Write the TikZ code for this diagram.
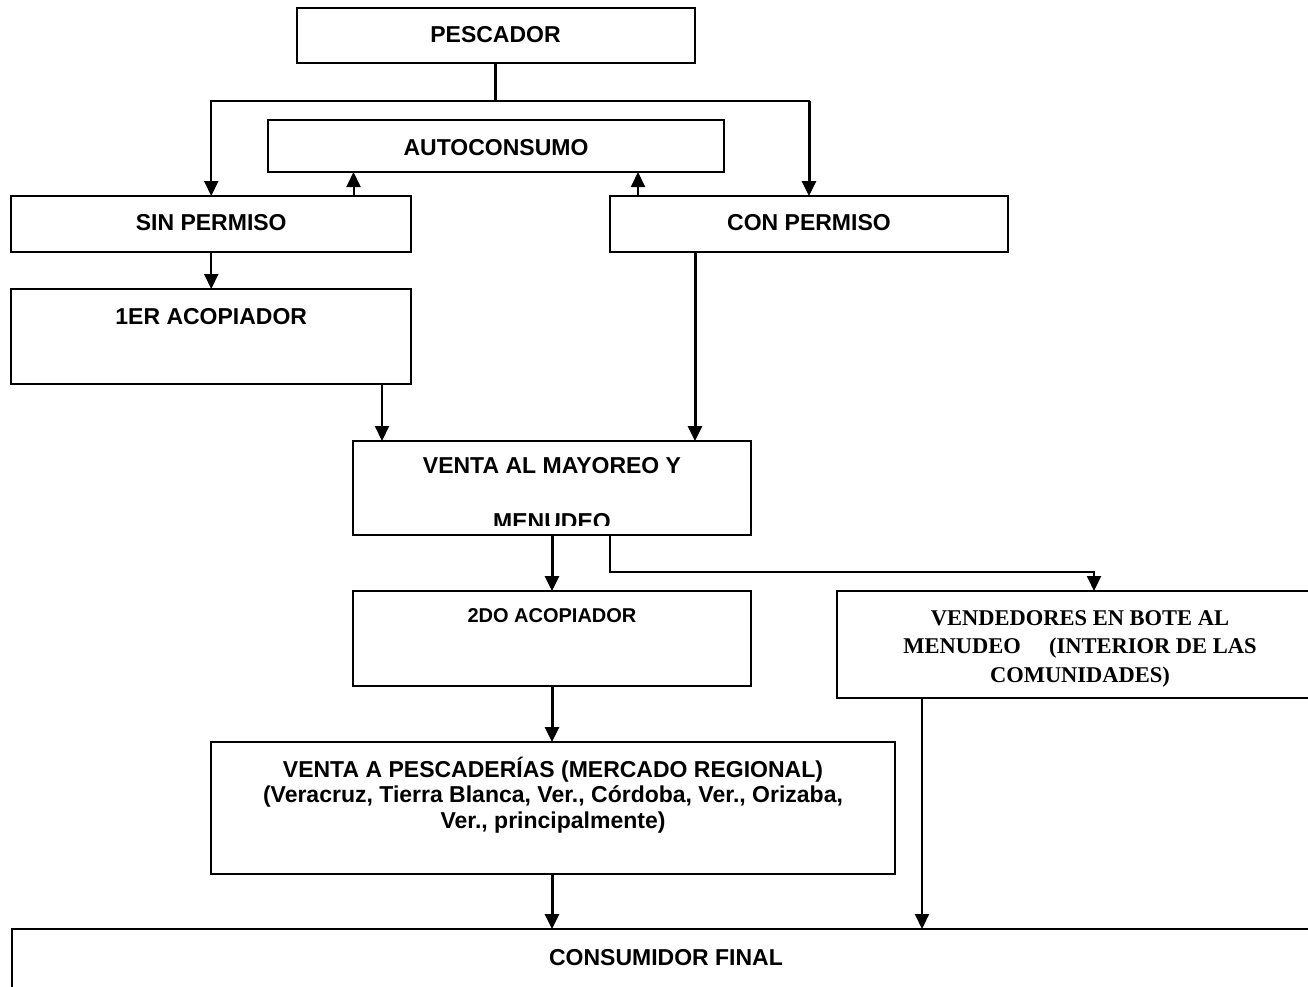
\documentclass[tikz,border=0pt]{standalone}
\usepackage{fontspec}
\setmainfont{Liberation Sans}
\newfontfamily\tnrfont{Liberation Serif}
\usetikzlibrary{arrows.meta}
\begin{document}
\begin{tikzpicture}[x=1pt,y=-1pt,
  box/.style={draw, line width=2pt, inner sep=0pt, outer sep=0pt},
  lbl/.style={inner sep=0pt, align=center, anchor=base, font=\bfseries\fontsize{23}{25.5}\selectfont},
  smlbl/.style={inner sep=0pt, align=center, anchor=base, font=\bfseries\fontsize{20}{24}\selectfont},
  serlbl/.style={inner sep=0pt, align=center, anchor=base, font=\tnrfont\bfseries\fontsize{22.5}{28.5}\selectfont},
  tip/.style={-{Triangle[length=15pt,width=14pt]}},
  cthin/.style={line width=2pt},
  cthick/.style={line width=3pt},
]
\useasboundingbox (0,0) rectangle (1308,986);
\begin{scope}
\clip (0,0) rectangle (1308,986);
% boxes
\node[box, minimum width=398pt, minimum height=55pt] (pes) at (495.5,35.5) {};
\node[box, minimum width=456pt, minimum height=52pt] (auto) at (496,146) {};
\node[box, minimum width=400pt, minimum height=56pt] (sin) at (211.25,224) {};
\node[box, minimum width=398pt, minimum height=56pt] (con) at (809,224) {};
\node[box, minimum width=400pt, minimum height=95pt] (acop1) at (211.25,336.5) {};
\node[box, minimum width=398pt, minimum height=94pt] (venta) at (552,488) {};
\node[box, minimum width=398pt, minimum height=95pt] (acop2) at (552,638.5) {};
\node[box, minimum width=486pt, minimum height=107pt] (vend) at (1080,644.5) {};
\node[box, minimum width=684pt, minimum height=132pt] (pesc) at (553,808) {};
\node[box, minimum width=1310pt, minimum height=90pt] (cons) at (666.5,974) {};
\end{scope}
% labels (anchor=base is the baseline of the last line)
\node[lbl] (pesT) at (495.5,42) {PESCADOR};
\node[lbl] (autoT) at (496,155) {AUTOCONSUMO};
\node[lbl] (sinT) at (211.25,230) {SIN PERMISO};
\node[lbl] (conT) at (809,230) {CON PERMISO};
\node[lbl] (acop1T) at (211.25,324) {1ER ACOPIADOR};
\begin{scope}
\clip (354,442) rectangle (750,525.5);
\node[lbl, font=\bfseries\fontsize{23}{56.5}\selectfont] (ventaT) at (552,529.5) {VENTA AL MAYOREO Y\\MENUDEO};
\end{scope}
\node[smlbl] (acop2T) at (552,622) {2DO ACOPIADOR};
\node[serlbl] (vendT) at (1080,682) {VENDEDORES EN BOTE AL\\MENUDEO\quad\ (INTERIOR DE LAS\\COMUNIDADES)};
\node[lbl] (pescT) at (553,828) {VENTA A PESCADERÍAS (MERCADO REGIONAL)\\(Veracruz, Tierra Blanca, Ver., Córdoba, Ver., Orizaba,\\Ver., principalmente)};
\node[lbl] (consT) at (666,965) {CONSUMIDOR FINAL};
% connectors
\coordinate (split) at (495.5,101);
\coordinate (conTop) at (809,101);
\draw[cthick] (pes.south) -- (split);
\draw[cthin, tip] (split) -| (sin.north);
\draw[cthin, line cap=rect] (split) -- (conTop);
\draw[cthick, tip] (conTop) -- (con.north);
\coordinate (sinA) at (353.5,196);
\draw[cthin, tip] (sinA) -- (sinA |- auto.south);
\coordinate (conA) at (638,196);
\draw[cthin, tip] (conA) -- (conA |- auto.south);
\draw[cthin, tip] (sin.south) -- (acop1.north);
\coordinate (ac1B) at (382,384);
\draw[cthin, tip] (ac1B) -- (ac1B |- venta.north);
\coordinate (conB) at (695,252);
\draw[cthick, tip] (conB) -- (conB |- venta.north);
\draw[cthick, tip] (venta.south) -- (acop2.north);
\coordinate (ventaB) at (610,535);
\coordinate (elbow) at (610,572);
\coordinate (vendA) at (1094,591);
\draw[cthin, tip] (ventaB) -- (elbow) -| (vendA);
\draw[cthick, tip] (acop2.south) -- (acop2.south |- pesc.north);
\coordinate (pescB) at (552,874);
\draw[cthick, tip] (pescB) -- (pescB |- cons.north);
\coordinate (vendB) at (922,698);
\draw[cthin, tip] (vendB) -- (vendB |- cons.north);
\end{tikzpicture}
\end{document}
